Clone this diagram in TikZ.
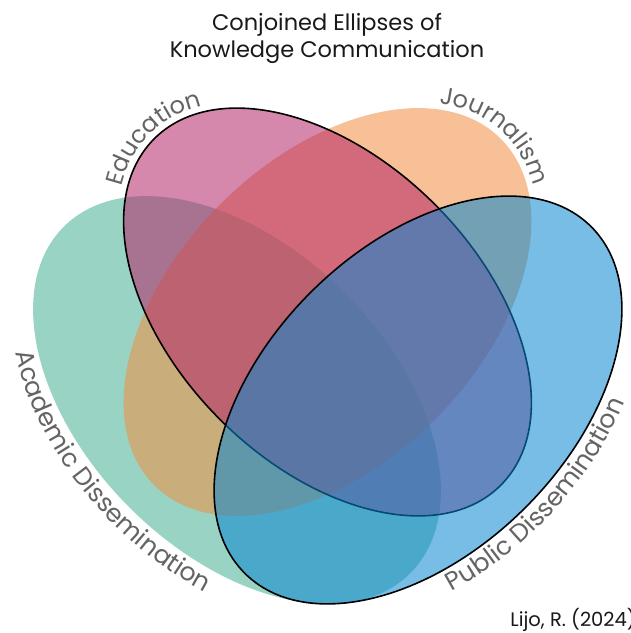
\documentclass[tikz,border=0pt]{standalone}
\usepackage{fontspec}
\setmainfont{Poppins}
\usetikzlibrary{decorations.text}
\definecolor{cgreen}{RGB}{71,175,146}
\definecolor{corange}{RGB}{242,142,64}
\definecolor{cpink}{RGB}{180,37,104}
\definecolor{cblue}{RGB}{10,135,210}
\definecolor{labgray}{RGB}{100,100,100}
\definecolor{titleblack}{RGB}{25,25,25}
\newcommand{\labfont}{\fontsize{24}{28}\selectfont}
\newcommand{\labfontwide}{\fontsize{25.2}{29}\selectfont}
\begin{document}
\begin{tikzpicture}[x=1pt,y=1pt,
  ell/.style={fill opacity=0.55, draw opacity=1},
  outl/.style={draw=black, line width=1.6pt},
  curvelab/.style={decorate, decoration={text along path, text color=labgray, text align=center, text={|\labfont|#1}}},
  curvelabwide/.style={decorate, decoration={text along path, text color=labgray, text align=center, text={|\labfontwide|#1}}},
  ttl/.style={text=titleblack, font=\fontsize{22.5}{27}\selectfont, align=center, inner sep=0pt}]
\useasboundingbox (0,0) rectangle (631,633);
\fill[white] (0,0) rectangle (631,633);
% ellipses (screen y converted: Y' = 633 - Y)
\fill[ell, fill=cgreen, rotate around={-45:(237,233)}] (237,233) ellipse (245pt and 152pt);
\fill[ell, fill=corange, rotate around={45:(327.5,321)}] (327.5,321) ellipse (245pt and 152pt);
\filldraw[ell, outl, fill=cpink, rotate around={-45:(327.5,321)}] (327.5,321) ellipse (245pt and 152pt);
\filldraw[ell, outl, fill=cblue, rotate around={45:(418,233)}] (418,233) ellipse (245pt and 152pt);
% title
\node[ttl] (title) at (327,595) {Conjoined Ellipses of\\Knowledge Communication};
% curved labels
\begin{scope}[shift={(327.5,321)}, rotate=-45]
  \path[curvelab=Education] (230:251pt and 158pt) arc[start angle=230, end angle=130, x radius=251pt, y radius=158pt];
\end{scope}
\begin{scope}[shift={(327.5,321)}, rotate=45]
  \path[curvelab=Journalism] (52:251pt and 158pt) arc[start angle=52, end angle=-48, x radius=251pt, y radius=158pt];
\end{scope}
\begin{scope}[shift={(237,233)}, rotate=-45]
  \path[curvelabwide=Academic Dissemination] (198:268pt and 175pt) arc[start angle=198, end angle=318, x radius=268pt, y radius=175pt];
\end{scope}
\begin{scope}[shift={(418,233)}, rotate=45]
  \path[curvelabwide=Public Dissemination] (215:268pt and 175pt) arc[start angle=215, end angle=335, x radius=268pt, y radius=175pt];
\end{scope}
% credit
\node[text=titleblack, font=\fontsize{19.5}{23}\selectfont, anchor=east, inner sep=0pt] (credit) at (636,13) {Lijo, R. (2024)};
\end{tikzpicture}
\end{document}
